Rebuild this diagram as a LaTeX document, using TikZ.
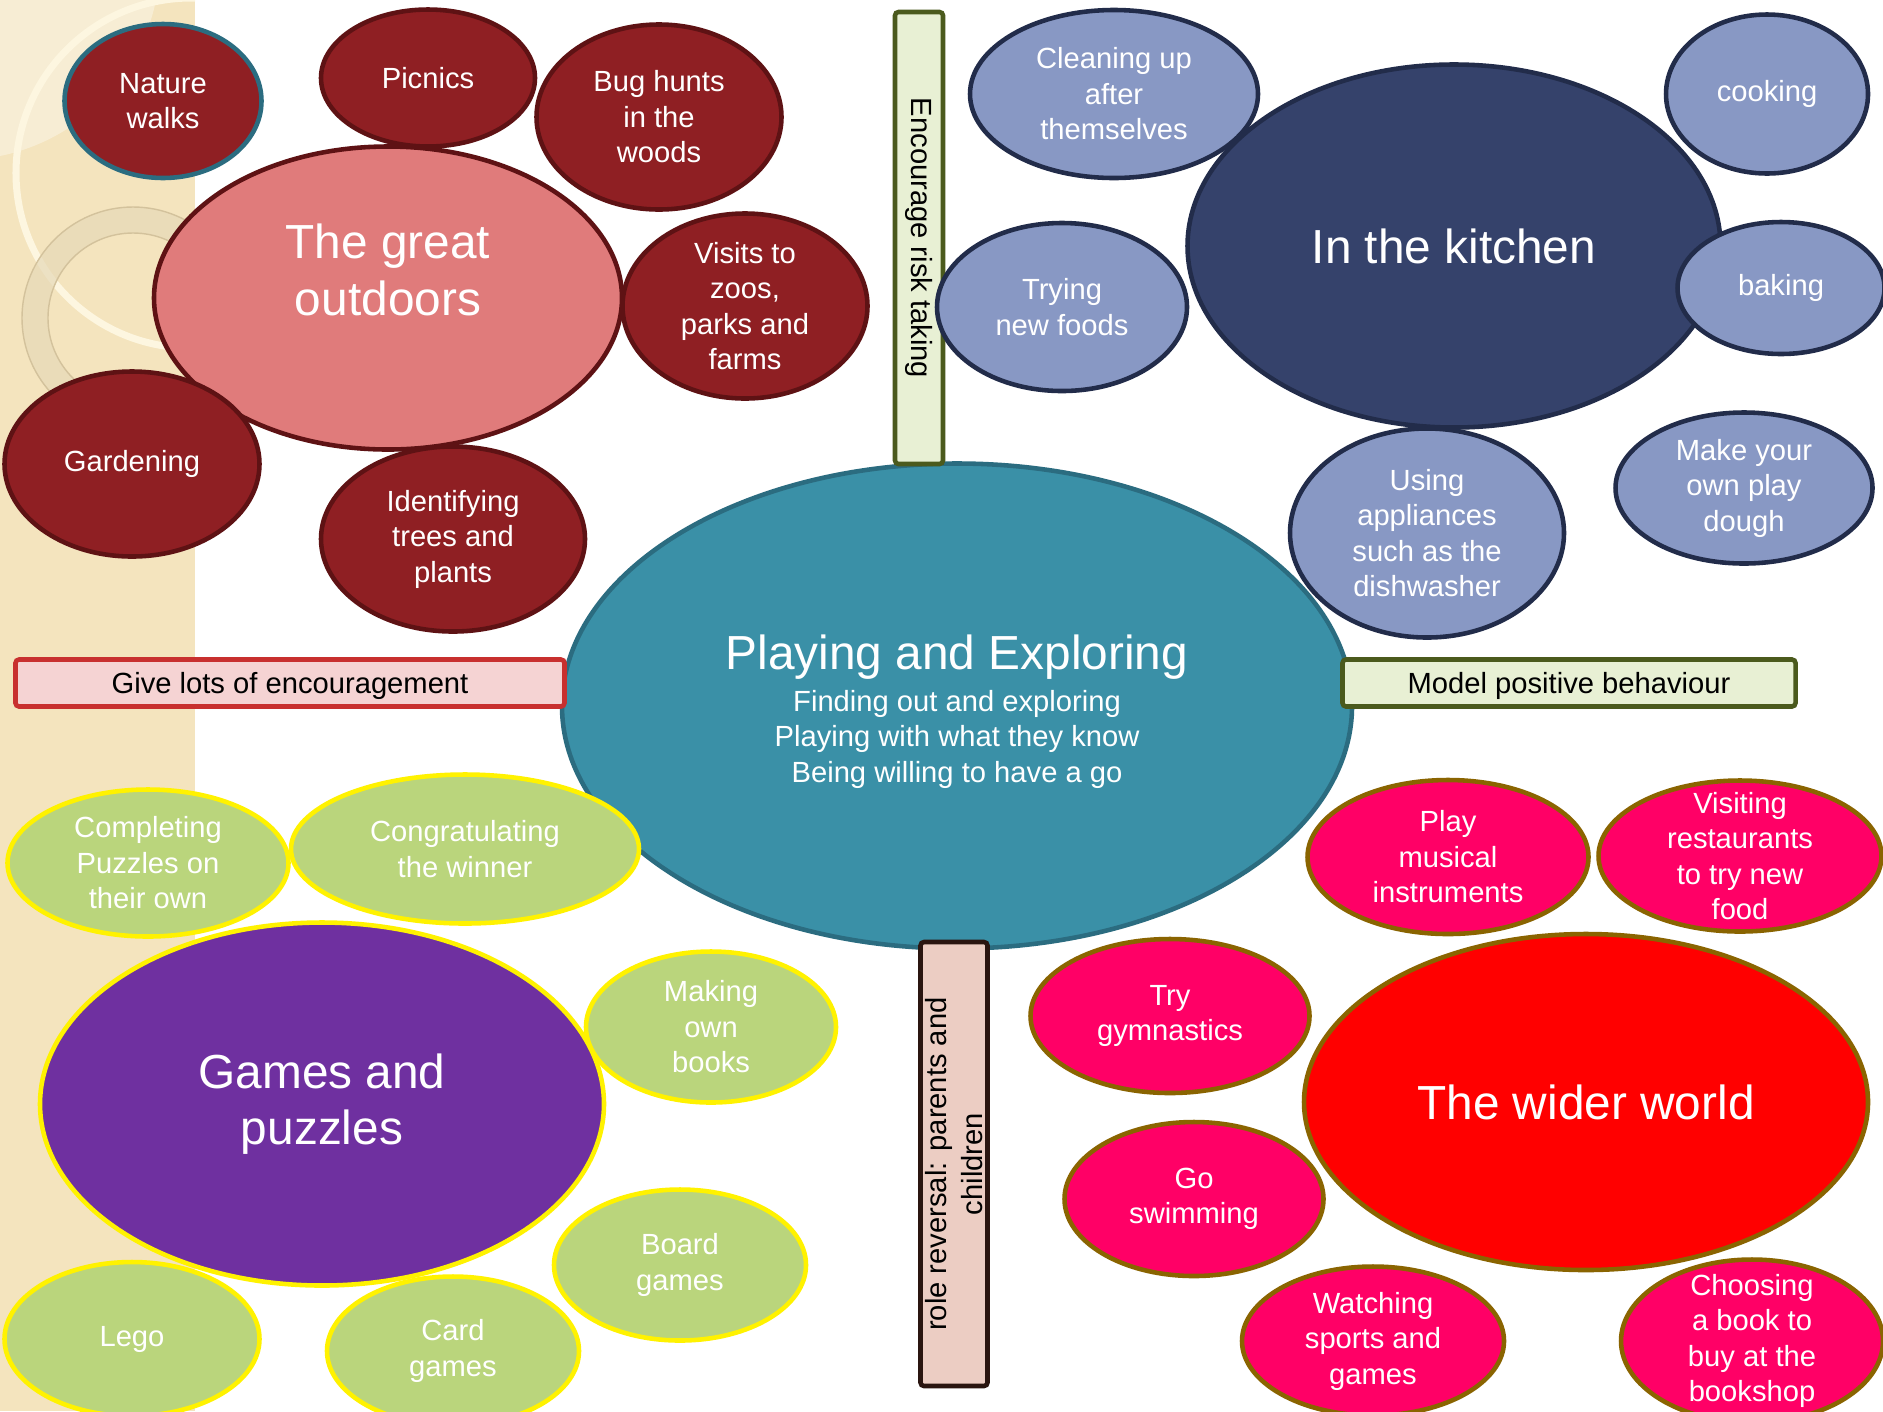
\documentclass[tikz,border=0pt]{standalone}
\usepackage{fontspec}
\setmainfont{Liberation Sans}
\usepackage{tikz}
\usetikzlibrary{shapes.geometric}

\definecolor{stripbg}{HTML}{F4E4BE}
\definecolor{cream}{HTML}{FDF6E0}
\definecolor{ringcol}{HTML}{E6D9B8}
\definecolor{ringedge}{HTML}{D3C29C}
\definecolor{wine}{HTML}{8F1F23}
\definecolor{wineline}{HTML}{5E1214}
\definecolor{salmon}{HTML}{E07B7B}
\definecolor{teal}{HTML}{3A90A7}
\definecolor{tealline}{HTML}{2B6C80}
\definecolor{lavender}{HTML}{8898C4}
\definecolor{navy}{HTML}{35426B}
\definecolor{navyline}{HTML}{222C4A}
\definecolor{sage}{HTML}{BAD57C}
\definecolor{grape}{HTML}{6F30A0}
\definecolor{hotpink}{HTML}{FF0066}
\definecolor{olive}{HTML}{8A6400}
\definecolor{boxgreen}{HTML}{E8F0D4}
\definecolor{boxgreenline}{HTML}{4B5A1D}
\definecolor{boxpink}{HTML}{F5D3D3}
\definecolor{boxpinkline}{HTML}{C8302F}
\definecolor{boxrose}{HTML}{ECCDC3}
\definecolor{boxroseline}{HTML}{2A1510}

\newcommand{\smalltxt}{\fontsize{8.3}{10.1}\selectfont}
\newcommand{\bigtxt}{\fontsize{13.6}{16}\selectfont}

\begin{document}
\begin{tikzpicture}[
			every node/.style = {align = center, inner sep = 0pt},
			bubble/.style = {ellipse, draw, line width = 1.3pt, text = white, font = \smalltxt,
				inner ysep = -8pt},
			big bubble/.style = {bubble, font = \bigtxt},
			wh/.style 2 args = {minimum width = #1cm, minimum height = #2cm},
			outdoor/.style = {fill = wine, draw = wineline},
			kitchen/.style = {fill = lavender, draw = navyline},
			game/.style = {fill = sage, draw = yellow},
			world/.style = {fill = hotpink, draw = olive},
			tag/.style = {rectangle, draw, line width = 1.3pt, rounded corners = 1pt,
				text = black, font = \smalltxt}
			]
			\useasboundingbox (0,0) rectangle (18.83,-14.11);
			\clip (0,0) rectangle (18.83,-14.11);
			\fill [white] (0,0) rectangle (18.83,-14.11);
			% Background strip
			\fill [stripbg] (0,0) rectangle (1.95,-14.11);
			\begin{scope}
				\clip (0,0) rectangle (1.95,-14.11);
				\fill [white, opacity = .35] (-0.4,0.4) circle (2.0);
				\draw [cream, line width = 2pt] (1.91,-1.73) circle (1.75);
				\draw [ringedge, line width = .4pt, fill = ringcol, fill opacity = .7, even odd rule]
				(1.33,-3.18) circle (1.11) circle (0.85);
			\end{scope}
			% Centre
			\node (centre) [big bubble, wh = {7.90}{4.85}, fill = teal, draw = tealline] at (9.57,-7.06) {};
			\node (title) [text = white, font = \bigtxt] at (9.57,-6.57) {Playing and Exploring};
			\node (aims) [text = white, font = \smalltxt] at (9.57,-7.39) {Finding out and exploring\\
				Playing with what they know\\ Being willing to have a go};
			% Tags
			\node (risk) [tag, rotate = -90, wh = {4.52}{0.48}, fill = boxgreen, draw = boxgreenline]
			at (9.19,-2.38) {Encourage risk taking};
			\node (praise) [tag, text depth = 0pt, wh = {5.49}{0.47}, fill = boxpink, draw = boxpinkline]
			at (2.90,-6.83) {Give lots of encouragement};
			\node (model) [tag, text depth = 0pt, wh = {4.53}{0.47}, fill = boxgreen, draw = boxgreenline]
			at (15.69,-6.83) {Model positive behaviour};
			\node (role) [tag, rotate = 90, wh = {4.44}{0.67}, fill = boxrose, draw = boxroseline]
			at (9.54,-11.64) {role reversal: parents and\\ children};
			% Outdoors
			\node (outdoors) [big bubble, wh = {4.68}{3.03}, fill = salmon, draw = wineline] at (3.88,-2.98) {};
			\node (outdoorstxt) [text = white, font = \bigtxt] at (3.88,-2.70) {The great\\ outdoors};
			\node (nature) [bubble, outdoor, draw = tealline, wh = {1.97}{1.54}] at (1.63,-1.01) {Nature\\ walks};
			\node (picnics) [bubble, outdoor, wh = {2.14}{1.37}] at (4.28,-0.78) {Picnics};
			\node (bugs) [bubble, outdoor, wh = {2.45}{1.85}] at (6.59,-1.17) {Bug hunts\\ in the\\ woods};
			\node (zoos) [bubble, outdoor, wh = {2.45}{1.85}] at (7.45,-3.06) {Visits to\\ zoos,\\ parks and\\ farms};
			\node (garden) [bubble, outdoor, wh = {2.55}{1.85}] at (1.32,-4.64) {Gardening};
			\node (trees) [bubble, outdoor, wh = {2.64}{1.85}] at (4.53,-5.39) {Identifying\\ trees and\\ plants};
			% Kitchen
			\node (kitchen) [big bubble, wh = {5.33}{3.63}, fill = navy, draw = navyline]
			at (14.54,-2.46) {In the kitchen};
			\node (cleaning) [bubble, kitchen, wh = {2.88}{1.68}] at (11.14,-0.94) {Cleaning up\\ after\\ themselves};
			\node (cooking) [bubble, kitchen, wh = {2.02}{1.59}] at (17.67,-0.94) {cooking};
			\node (foods) [bubble, kitchen, wh = {2.50}{1.68}] at (10.62,-3.07) {Trying\\ new foods};
			\node (baking) [bubble, kitchen, wh = {2.07}{1.32}] at (17.81,-2.88) {baking};
			\node (tools) [bubble, kitchen, wh = {2.74}{2.09}] at (14.27,-5.33) {Using\\ appliances\\ such as the\\ dishwasher};
			\node (dough) [bubble, kitchen, wh = {2.57}{1.51}] at (17.44,-4.88) {Make your\\ own play\\ dough};
			% Games
			\node (puzzles) [bubble, game, wh = {2.81}{1.47}] at (1.48,-8.63) {Completing\\ Puzzles on\\ their own};
			\node (winner) [bubble, game, wh = {3.48}{1.49}] at (4.65,-8.49) {Congratulating\\ the winner};
			\node (games) [big bubble, wh = {5.64}{3.63}, fill = grape, draw = yellow]
			at (3.22,-11.04) {Games and\\ puzzles};
			\node (books) [bubble, game, wh = {2.50}{1.51}] at (7.11,-10.27) {Making\\ own\\ books};
			\node (board) [bubble, game, wh = {2.52}{1.51}] at (6.80,-12.65) {Board\\ games};
			\node (lego) [bubble, game, wh = {2.55}{1.54}] at (1.32,-13.39) {Lego};
			\node (cards) [bubble, game, wh = {2.52}{1.49}] at (4.53,-13.51) {Card\\ games};
			% World
			\node (world) [big bubble, wh = {5.64}{3.36}, fill = red, draw = olive]
			at (15.86,-11.02) {The wider world};
			\node (music) [bubble, world, wh = {2.81}{1.54}] at (14.48,-8.57) {Play\\ musical\\ instruments};
			\node (food) [bubble, world, wh = {2.83}{1.51}] at (17.40,-8.56) {Visiting\\ restaurants\\ to try new\\ food};
			\node (gym) [bubble, world, wh = {2.79}{1.54}] at (11.70,-10.16) {Try\\ gymnastics};
			\node (swim) [bubble, world, wh = {2.59}{1.54}] at (11.94,-11.99) {Go\\ swimming};
			\node (sports) [bubble, world, wh = {2.62}{1.49}] at (13.73,-13.41) {Watching\\ sports and\\ games};
			\node (bookshop) [bubble, world, wh = {2.62}{1.63}] at (17.52,-13.41) {Choosing\\ a book to\\ buy at the\\ bookshop};
		\end{tikzpicture}
\end{document}
